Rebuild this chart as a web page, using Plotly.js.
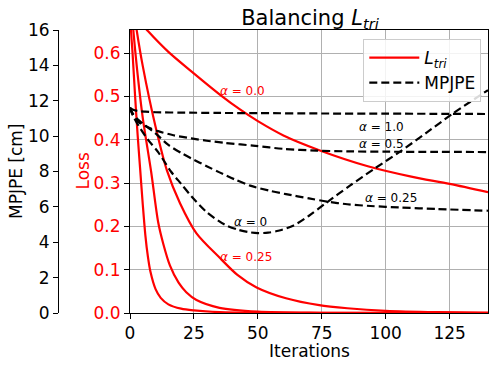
<!DOCTYPE html>
<html>
<head>
<meta charset="utf-8">
<script src="https://cdn.plot.ly/plotly-3.0.1.min.js"></script>
<style>html,body{margin:0;padding:0;background:#fff;}#chart{width:499px;height:367px;}</style>
</head>
<body>
<div id="chart"></div>
<script>
// ---- Loss curves (L_tri) ----
const lossIterA0 = [0, 7, 15, 24, 35, 43, 50, 60, 74, 93, 110, 125, 140];
const lossA0 = [0.699, 0.651, 0.603, 0.558, 0.505, 0.470, 0.443, 0.410, 0.376, 0.339, 0.315, 0.298, 0.279];

const lossIterA025 = [0, 2.6, 5, 10, 14.4, 19.6, 26, 35, 42, 49.5, 61, 74, 85, 100, 120, 140];
const lossA025 = [0.76, 0.6535, 0.57, 0.43, 0.33, 0.253, 0.184, 0.128, 0.088, 0.059, 0.034, 0.018, 0.011, 0.005, 0.002, 0.001];

const lossIterA05 = [0, 1.3, 3, 5, 8.3, 11, 13, 15.6, 19, 22, 26, 35, 50, 75, 100, 140];
const lossA05 = [0.76, 0.6535, 0.55, 0.45, 0.325, 0.21, 0.16, 0.11, 0.07, 0.048, 0.03, 0.012, 0.003, 0.0005, 0.0001, 0];

const lossIterA1 = [0, 0.4, 1, 2, 3, 4, 5, 6, 7, 8, 10, 12, 15, 20, 25, 35, 50, 140];
const lossA1 = [0.76, 0.6535, 0.60, 0.50, 0.41, 0.33, 0.25, 0.18, 0.13, 0.095, 0.055, 0.035, 0.02, 0.01, 0.006, 0.002, 0.0005, 0];

// ---- MPJPE curves [cm] ----
const mpjpeIterA1 = [0, 1, 3, 6, 10, 20, 35, 50, 75, 100, 125, 140];
const mpjpeA1 = [11.6, 11.5, 11.42, 11.38, 11.35, 11.33, 11.31, 11.3, 11.28, 11.27, 11.26, 11.25];

const mpjpeIterA05 = [0, 1, 3.3, 7, 11, 17, 24, 30, 37, 49, 60, 73, 85, 100, 120, 140];
const mpjpeA05 = [11.6, 11.25, 10.8, 10.5, 10.28, 10.05, 9.87, 9.74, 9.62, 9.45, 9.28, 9.18, 9.14, 9.12, 9.11, 9.1];

const mpjpeIterA025 = [0, 1, 3, 6, 10, 15, 20, 24, 30, 35, 41, 47, 55, 61, 70, 77, 85, 94, 105, 120, 140];
const mpjpeA025 = [11.6, 11.3, 10.95, 10.6, 10.15, 9.5, 9.05, 8.74, 8.3, 7.95, 7.55, 7.2, 6.9, 6.72, 6.48, 6.3, 6.15, 6.05, 5.97, 5.88, 5.78];

const mpjpeIterA0 = [0, 1, 3.3, 7, 11, 16, 20, 24, 30, 37, 42, 46, 50, 54, 58, 64, 70, 76, 86, 96, 105.6, 116, 126.4, 140];
const mpjpeA0 = [11.6, 11.2, 10.6, 9.8, 9.1, 8.0, 7.3, 6.6, 5.7, 5.0, 4.72, 4.58, 4.52, 4.54, 4.65, 4.95, 5.5, 6.15, 7.2, 8.2, 9.12, 10.2, 11.29, 12.6];

// ---- tick labels / legend names / curve labels / axis titles ----
const xTicks = [0, 25, 50, 75, 100, 125];
const lossTicks = [0, 0.1, 0.2, 0.3, 0.4, 0.5, 0.6];
const mpjpeTicks = [0, 2, 4, 6, 8, 10, 12, 14, 16];
const titleText = 'Balancing <i>L</i><sub><i>tri</i></sub>';
const xTitle = 'Iterations';
const lossTitle = 'Loss';
const mpjpeTitle = 'MPJPE [cm]';
const legendLoss = '<i>L</i><sub><i>tri</i></sub>';
const legendMpjpe = 'MPJPE';
const labelTexts = ['<i>α</i> = 0.0', '<i>α</i> = 0.25', '<i>α</i> = 1.0', '<i>α</i> = 0.5', '<i>α</i> = 0.25', '<i>α</i> = 0'];
const labelX = [43.8, 45.3, 98.5, 98.5, 102.1, 47.3];
const labelLoss = [0.513, 0.129, 0.430, 0.390, 0.265, 0.2095];
const labelColors = ['red', 'red', 'black', 'black', 'black', 'black'];

const RED = '#ff0000';
function lossTrace(x, y, show) {
  return {x: x, y: y, xaxis: 'x', yaxis: 'y', type: 'scatter', mode: 'lines',
    line: {color: RED, width: 2.2, shape: 'spline', smoothing: 0.8},
    name: legendLoss, showlegend: show, legendgroup: 'loss', hoverinfo: 'skip'};
}
function mpjpeTrace(x, y, show) {
  return {x: x, y: y, xaxis: 'x', yaxis: 'y2', type: 'scatter', mode: 'lines',
    line: {color: 'black', width: 2.2, dash: '8px,4px', shape: 'spline', smoothing: 0.8},
    name: legendMpjpe, showlegend: show, legendgroup: 'mpjpe', hoverinfo: 'skip'};
}

const data = [
  lossTrace(lossIterA0, lossA0, true),
  lossTrace(lossIterA025, lossA025, false),
  lossTrace(lossIterA05, lossA05, false),
  lossTrace(lossIterA1, lossA1, false),
  mpjpeTrace(mpjpeIterA1, mpjpeA1, true),
  mpjpeTrace(mpjpeIterA05, mpjpeA05, false),
  mpjpeTrace(mpjpeIterA025, mpjpeA025, false),
  mpjpeTrace(mpjpeIterA0, mpjpeA0, false)
];

const annotations = labelTexts.map((t, i) => ({
  text: t, x: labelX[i], y: labelLoss[i], xref: 'x', yref: 'y',
  showarrow: false, xanchor: 'center', yanchor: 'middle',
  font: {family: 'DejaVu Sans', size: 12, color: labelColors[i] === 'red' ? RED : 'black'}
}));
// axis titles (paper coords: plot area spans px 58..488 horizontally, 30..313 vertically)
annotations.push({text: mpjpeTitle, xref: 'paper', yref: 'paper', x: (15.5 - 58) / 430, y: 0.5,
  textangle: -90, showarrow: false, xanchor: 'center', yanchor: 'middle', font: {size: 17, color: 'black'}});
annotations.push({text: lossTitle, xref: 'paper', yref: 'paper', x: (82 - 58) / 430, y: 0.5,
  textangle: -90, showarrow: false, xanchor: 'center', yanchor: 'middle', font: {size: 17, color: RED}});
annotations.push({text: xTitle, xref: 'paper', yref: 'paper', x: (309 - 58) / 430, y: (313 - 350.5) / 283,
  showarrow: false, xanchor: 'center', yanchor: 'middle', font: {size: 17, color: 'black'}});

const layout = {
  width: 499, height: 367,
  margin: {l: 58, r: 11, t: 30, b: 54, pad: 0},
  paper_bgcolor: 'white', plot_bgcolor: 'white',
  font: {family: 'DejaVu Sans', size: 17, color: 'black'},
  title: {text: titleText, font: {size: 21, color: 'black'},
    x: 310 / 499, xref: 'container', xanchor: 'center', y: 1 - 17.5 / 367, yref: 'container', yanchor: 'middle'},
  showlegend: true,
  legend: {x: 0.71, y: 0.968, xanchor: 'left', yanchor: 'top', bgcolor: 'rgba(255,255,255,0.85)',
    bordercolor: '#cccccc', borderwidth: 1, font: {size: 17}, tracegroupgap: 0, itemwidth: 50},
  xaxis: {domain: [72 / 430, 1], range: [0, 140], tickvals: xTicks, ticks: 'outside', ticklen: 5,
    tickcolor: 'black', showline: true, linecolor: 'black', linewidth: 1, mirror: true,
    showgrid: true, gridcolor: '#b0b0b0', gridwidth: 1, zeroline: false, automargin: false},
  yaxis: {range: [0, 0.6535], tickvals: lossTicks, tickformat: '.1f', ticks: 'outside', ticklen: 5,
    tickcolor: 'black', tickfont: {color: RED}, showline: true, linecolor: 'black', linewidth: 1, mirror: true,
    showgrid: true, gridcolor: '#b0b0b0', gridwidth: 1, zeroline: false, automargin: false},
  yaxis2: {overlaying: 'y', anchor: 'free', position: 0, side: 'left', range: [0, 16], tickvals: mpjpeTicks,
    ticks: 'outside', ticklen: 5, tickcolor: 'black', showline: true, linecolor: 'black', linewidth: 1,
    showgrid: false, zeroline: false, automargin: false},
  annotations: annotations
};

Plotly.newPlot('chart', data, layout, {staticPlot: true, displayModeBar: false});
</script>
</body>
</html>
